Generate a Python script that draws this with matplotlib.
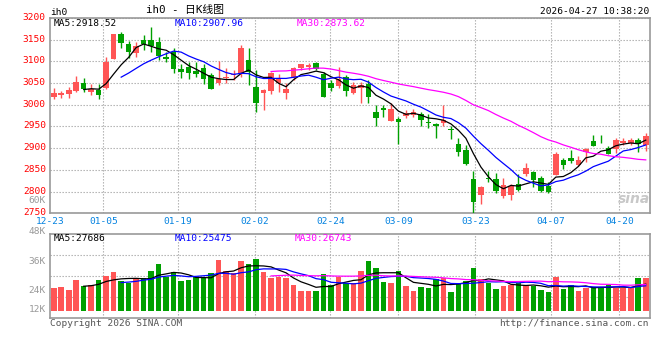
"""Sina-style daily K-line chart for ih0 with volume panel."""

import matplotlib
matplotlib.use("Agg")
import matplotlib.pyplot as plt
import matplotlib.transforms as mtransforms
import pandas as pd


# daily bars, 2025-12-23 .. 2026-04-27
opens = [3019, 3022, 3025, 3031, 3050, 3030, 3034, 3039, 3106, 3164,
         3139, 3120, 3150, 3150, 3145, 3109, 3122, 3083, 3086, 3079,
         3084, 3069, 3050, 3061, 3068, 3071, 3103, 3041, 3028, 3031,
         3051, 3028, 3061, 3084, 3088, 3096, 3072, 3050, 3043, 3064,
         3028, 3039, 3047, 2984, 2993, 2963, 2967, 2974, 2977, 2978,
         2961, 2955, 2959, 2944, 2910, 2896, 2830, 2793, 2832, 2830,
         2790, 2793, 2818, 2841, 2845, 2831, 2812, 2839, 2872, 2877,
         2862, 2892, 2917, 2920, 2900, 2898, 2912, 2912, 2919, 2908]
closes = [3027, 3027, 3034, 3052, 3036, 3036, 3022, 3099, 3162, 3142,
          3122, 3135, 3139, 3136, 3113, 3106, 3083, 3076, 3074, 3071,
          3060, 3037, 3059, 3064, 3071, 3130, 3076, 3004, 3034, 3073,
          3061, 3036, 3085, 3093, 3091, 3083, 3018, 3038, 3059, 3031,
          3045, 3045, 3019, 2970, 2987, 2990, 2961, 2982, 2983, 2965,
          2957, 2952, 2965, 2941, 2892, 2864, 2776, 2810, 2829, 2802,
          2816, 2814, 2803, 2854, 2826, 2802, 2798, 2887, 2861, 2870,
          2873, 2898, 2906, 2918, 2887, 2919, 2917, 2919, 2909, 2929]
highs = [3038, 3031, 3041, 3066, 3061, 3047, 3047, 3109, 3163, 3168,
         3148, 3145, 3160, 3180, 3156, 3122, 3131, 3095, 3099, 3099,
         3095, 3073, 3102, 3084, 3080, 3137, 3130, 3080, 3037, 3076,
         3070, 3050, 3087, 3095, 3097, 3098, 3076, 3056, 3087, 3068,
         3053, 3053, 3057, 2999, 2999, 3003, 2973, 2988, 2990, 2983,
         2979, 2958, 2999, 2950, 2923, 2908, 2848, 2813, 2847, 2843,
         2831, 2818, 2841, 2866, 2847, 2836, 2821, 2892, 2877, 2896,
         2881, 2901, 2930, 2930, 2905, 2924, 2924, 2923, 2924, 2936]
lows = [3013, 3016, 3016, 3030, 3030, 3022, 3014, 3037, 3105, 3132,
        3107, 3110, 3126, 3122, 3103, 3099, 3073, 3061, 3060, 3064,
        3048, 3036, 3046, 3050, 3058, 3065, 3046, 2983, 2987, 3026,
        3030, 3013, 3058, 3081, 3080, 3081, 3018, 3032, 3039, 3021,
        3024, 3005, 3005, 2950, 2973, 2962, 2910, 2969, 2971, 2950,
        2947, 2924, 2951, 2921, 2881, 2862, 2751, 2772, 2821, 2796,
        2785, 2781, 2801, 2835, 2811, 2799, 2796, 2838, 2851, 2866,
        2858, 2869, 2906, 2911, 2887, 2890, 2908, 2908, 2892, 2894]
volumes = [23300, 24400, 21300, 31600, 25400, 26100, 31600, 36000, 39800, 30500,
           28100, 32200, 33600, 40800, 48000, 35000, 39800, 30500, 31600, 34300,
           34300, 38800, 52100, 40800, 38400, 51100, 48000, 53200, 39800, 33600,
           35000, 33600, 26400, 20200, 20200, 20200, 37700, 26400, 34300, 28800,
           28800, 41200, 51500, 44200, 29800, 28800, 41200, 25700, 20600, 24700,
           23700, 32600, 34000, 19600, 27800, 30500, 44200, 32600, 28800, 22600,
           25700, 26400, 28800, 26400, 25000, 21600, 19600, 34600, 22600, 26400,
           20600, 23700, 24700, 24700, 26100, 23000, 23000, 23000, 34000, 34000]

date_labels = ["12-23", "01-05", "01-19", "02-02", "02-24", "03-09", "03-23", "04-07", "04-20"]
date_pos = [-0.5, 6.6, 16.6, 26.8, 36.9, 46.0, 56.2, 66.3, 75.4]
price_ticks = [2750, 2800, 2850, 2900, 2950, 3000, 3050, 3100, 3150, 3200]
vol_labels = ["60K", "48K", "36K", "24K", "12K"]
price_ma_text = ["MA5:2918.52", "MA10:2907.96", "MA30:2873.62"]
vol_ma_text = ["MA5:27686", "MA10:25475", "MA30:26743"]

RED = "#ff5555"
GREEN = "#00a000"
MA_COLORS = ["black", "#0000ff", "#ff00ff"]
GRID = "#aaaaaa"
FRAME = "#999999"
MONO = "DejaVu Sans Mono"
FS = 6.8

W, H = 660, 360


def fx(px):
    return px / W


def fy(py):
    return 1 - py / H


def style_axes(ax):
    for s in ax.spines.values():
        s.set_color(FRAME)
        s.set_linewidth(1.2)
    ax.set_xlim(-0.5, len(closes) - 0.5)
    ax.set_xticks(date_pos[1:])
    ax.grid(True, color=GRID, linewidth=0.8, linestyle=(0, (1.2, 1.5)))
    ax.tick_params(length=0)


def main():
    fig = plt.figure(figsize=(6.6, 3.6), dpi=100)
    fig.patch.set_facecolor("white")

    df = pd.DataFrame({"o": opens, "c": closes, "h": highs, "l": lows, "v": volumes})
    x = list(range(len(df)))
    up = df["c"] >= df["o"]
    colors = [RED if u else GREEN for u in up]

    # price panel
    ax = fig.add_axes([fx(50), fy(213.3), fx(599.5), (213.3 - 18) / H])
    style_axes(ax)
    ax.set_ylim(2750, 3200)
    ax.vlines(x, df["l"], df["h"], colors=colors, linewidth=1.0, zorder=3)
    body_low = df[["o", "c"]].min(axis=1)
    body_h = (df["c"] - df["o"]).abs().clip(lower=2.0)
    ax.bar(x, body_h, bottom=body_low, width=0.74, color=colors, linewidth=0, zorder=4)
    for n, col in zip([5, 10, 30], MA_COLORS):
        ma = df["c"].rolling(n).mean()
        ax.plot(x, ma, color=col, linewidth=0.9, zorder=5)

    ax.set_yticks(price_ticks)
    ax.set_yticklabels([str(t) for t in price_ticks], color="#ff0000",
                       fontsize=FS, family=MONO)
    ax.tick_params(axis="y", pad=3)
    shift = mtransforms.ScaledTranslation(0, 1.5 / 100, fig.dpi_scale_trans)
    for lbl in ax.get_yticklabels():
        lbl.set_transform(lbl.get_transform() + shift)
    ax.set_xticklabels([])

    # date labels under the price panel
    for lab, pos in zip(date_labels, date_pos):
        px = 50 + (pos + 0.5) * 7.5
        fig.text(fx(px), fy(222), lab, color="#0482e0", fontsize=FS, family=MONO,
                 ha="center", va="center")

    # volume panel
    axv = fig.add_axes([fx(50), fy(317.7), fx(599.5), (317.7 - 234.3) / H])
    style_axes(axv)
    vmin, vmax = -7200, 78700
    axv.set_ylim(vmin, vmax)
    step = (vmax - vmin) / 4
    axv.set_yticks([vmin + step, vmin + 2 * step, vmin + 3 * step])
    axv.set_yticklabels([])
    axv.set_xticklabels([])
    axv.bar(x, df["v"], width=0.74, color=colors, linewidth=0, zorder=3)
    for n, col in zip([5, 10, 30], MA_COLORS):
        ma = df["v"].rolling(n).mean()
        axv.plot(x, ma, color=col, linewidth=0.9, zorder=4)

    for lab, py in zip(vol_labels, [200.5, 231, 261, 290.5, 310]):
        fig.text(fx(46), fy(py), lab, color="#999999", fontsize=FS, family=MONO,
                 ha="right", va="center")

    # legends
    for txt, col, px in zip(price_ma_text, MA_COLORS, [54, 175, 297]):
        fig.text(fx(px), fy(23.5), txt, color=col, fontsize=FS, family=MONO,
                 ha="left", va="center", zorder=10)
    for txt, col, px in zip(vol_ma_text, MA_COLORS, [54, 175, 295]):
        fig.text(fx(px), fy(238.3), txt, color=col, fontsize=FS, family=MONO,
                 ha="left", va="center", zorder=10)

    # header / footer
    fig.text(fx(50), fy(12.5), "ih0", color="black", fontsize=FS, family=MONO,
             ha="left", va="center")
    fig.text(fx(185), fy(10.5), "ih0 - 日K线图", color="black", fontsize=7.8,
             family=[MONO, "Noto Sans CJK SC"], ha="center", va="center")
    fig.text(fx(649), fy(11.5), "2026-04-27 10:38:20", color="black", fontsize=FS,
             family=MONO, ha="right", va="center")
    fig.text(fx(50), fy(323.5), "Copyright 2026 SINA.COM", color="#555555",
             fontsize=FS, family=MONO, ha="left", va="center")
    fig.text(fx(649), fy(324), "http://finance.sina.com.cn", color="#555555",
             fontsize=FS, family=MONO, ha="right", va="center")
    fig.text(fx(634), fy(199), "sina", color="#c8c8c8", fontsize=10,
             fontweight="bold", style="italic", ha="center", va="center")

    fig.savefig("out.png", dpi=100)


if __name__ == "__main__":
    main()
